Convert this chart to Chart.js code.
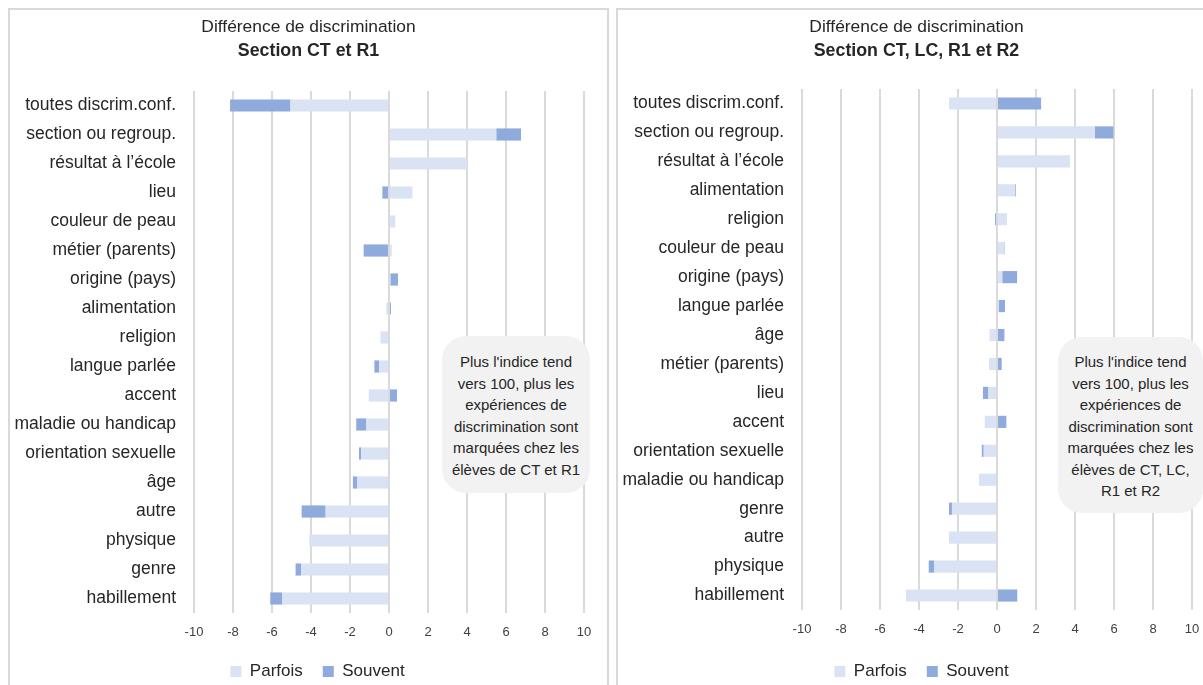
<!DOCTYPE html>
<html lang="fr">
<head>
<meta charset="utf-8">
<title>Différence de discrimination</title>
<script src="https://cdn.jsdelivr.net/npm/chart.js@4.4.1/dist/chart.umd.min.js"></script>
<style>
  html, body { margin: 0; padding: 0; background: #fff; }
  body { position: relative; width: 1203px; height: 685px; overflow: hidden;
         font-family: 'Liberation Sans', Arial, sans-serif; }
  .panel { position: absolute; top: 8px; width: 601px; height: 700px;
           border: 2px solid #D9D9D9; box-sizing: border-box; }
  #panelA { left: 8px; }
  #panelB { left: 616px; }
  canvas { position: absolute; top: 0; }
  #chartA { left: 9px; }
  #chartB { left: 617px; }
  .note { position: absolute; background: #F2F2F2; border-radius: 24px;
          box-sizing: border-box; text-align: center; color: #262626;
          font-size: 15px; line-height: 21.5px; white-space: nowrap; z-index: 2; }
  #noteA { left: 442px; top: 336px; width: 148px; height: 157px; padding-top: 15px; }
  #noteB { left: 1058px; top: 337px; width: 145px; height: 176px; padding-top: 14px; }
</style>
</head>
<body>
<div class="panel" id="panelA"></div>
<div class="panel" id="panelB"></div>
<canvas id="chartA" width="600" height="690"></canvas>
<canvas id="chartB" width="600" height="690"></canvas>
<div class="note" id="noteA">Plus l'indice tend<br>vers 100, plus les<br>expériences de<br>discrimination sont<br>marquées chez les<br>élèves de CT et R1</div>
<div class="note" id="noteB">Plus l'indice tend<br>vers 100, plus les<br>expériences de<br>discrimination sont<br>marquées chez les<br>élèves de CT, LC,<br>R1 et R2</div>
<script>
// Section CT et R1
const categoriesA = [
  'toutes discrim.conf.', 'section ou regroup.', 'résultat à l\u2019école', 'lieu',
  'couleur de peau', 'métier (parents)', 'origine (pays)', 'alimentation',
  'religion', 'langue parlée', 'accent', 'maladie ou handicap',
  'orientation sexuelle', 'âge', 'autre', 'physique', 'genre', 'habillement'
];
const parfoisA = [-5.05, 5.5, 4.0, 1.2, 0.32, 0.14, 0.07, -0.14, -0.44, -0.51, -1.04, -1.16, -1.42, -1.64, -3.25, -4.09, -4.51, -5.47];
const souventA = [-3.1, 1.27, 0, -0.34, 0, -1.3, 0.39, 0.1, 0, -0.24, 0.41, -0.52, -0.12, -0.21, -1.23, 0, -0.28, -0.62];

// Section CT, LC, R1 et R2
const categoriesB = [
  'toutes discrim.conf.', 'section ou regroup.', 'résultat à l\u2019école', 'alimentation',
  'religion', 'couleur de peau', 'origine (pays)', 'langue parlée',
  'âge', 'métier (parents)', 'lieu', 'accent',
  'orientation sexuelle', 'maladie ou handicap', 'genre', 'autre', 'physique', 'habillement'
];
const parfoisB = [-2.46, 5.01, 3.74, 0.92, 0.51, 0.34, 0.27, 0.1, -0.38, -0.41, -0.44, -0.63, -0.68, -0.92, -2.31, -2.46, -3.21, -4.67];
const souventB = [2.26, 0.96, 0, 0.04, -0.1, 0.04, 0.76, 0.31, 0.38, 0.24, -0.28, 0.48, -0.1, 0, -0.15, 0, -0.29, 1.04];

// Value axis
const axisMin = -10;
const axisMax = 10;
const axisStep = 2;

const seriesNames = ['Parfois', 'Souvent'];
const seriesColors = ['#DAE3F3', '#8FAADC'];

Chart.defaults.font.family = "'Liberation Sans', Arial, sans-serif";
Chart.defaults.color = '#262626';

const CANVAS_H = 690;
const LEGEND_FONT = 17;
const LEGEND_PAD = 20;
const LEGEND_H = LEGEND_FONT + LEGEND_PAD + 10;

// Centre the heading and the legend on the panel rather than on the full layout width
const centerBoxes = {
  id: 'centerBoxes',
  afterLayout(chart, args, opts) {
    chart.boxes.forEach((b) => {
      if (b === chart.legend) {
        b.left += opts.legendShift;
        b.right += opts.legendShift;
      } else if (b.options && typeof b.options.text === 'string') {
        b.left += opts.titleShift;
        b.right += opts.titleShift;
      }
    });
  }
};

function buildChart(id, subtitleText, labels, parfois, souvent, frame) {
  return new Chart(document.getElementById(id), {
    type: 'bar',
    data: {
      labels: labels,
      datasets: [
        { label: seriesNames[0], data: parfois, backgroundColor: seriesColors[0],
          barPercentage: 0.42, categoryPercentage: 1 },
        { label: seriesNames[1], data: souvent, backgroundColor: seriesColors[1],
          barPercentage: 0.42, categoryPercentage: 1 }
      ]
    },
    plugins: [centerBoxes],
    options: {
      indexAxis: 'y',
      responsive: false,
      animation: false,
      events: [],
      layout: { padding: { left: 0, right: 25, top: 17.06, bottom: 0 } },
      scales: {
        x: {
          stacked: true,
          min: axisMin,
          max: axisMax,
          ticks: { stepSize: axisStep, padding: 11.5, color: '#404040', font: { size: 13 } },
          grid: { color: '#DADADA', lineWidth: 2, drawTicks: false },
          border: { display: false },
          afterFit: (s) => { s.height = CANVAS_H - LEGEND_H - frame.bottom; }
        },
        y: {
          stacked: true,
          ticks: { padding: 18, color: '#262626', font: { size: 17.5 }, autoSkip: false },
          grid: { display: false, drawTicks: false },
          border: { display: false },
          afterFit: (s) => { s.width = 185; }
        }
      },
      plugins: {
        centerBoxes: { titleShift: 12, legendShift: frame.legendShift },
        title: {
          display: true,
          text: 'Différence de discrimination',
          color: '#262626',
          font: { size: 17.4, weight: 'normal', lineHeight: 1.2 },
          padding: { top: 0, bottom: 2.88 }
        },
        subtitle: {
          display: true,
          text: subtitleText,
          color: '#262626',
          font: { size: 17.8, weight: 'bold', lineHeight: 1.2 },
          padding: { top: 0, bottom: frame.top - 62.18 }
        },
        legend: {
          position: 'bottom',
          labels: { boxWidth: 11, boxHeight: 11, padding: LEGEND_PAD, color: '#262626',
                    font: { size: LEGEND_FONT } }
        },
        tooltip: { enabled: false }
      }
    }
  });
}

buildChart('chartA', 'Section CT et R1', categoriesA, parfoisA, souventA,
           { top: 91, bottom: 613, legendShift: 21 });
buildChart('chartB', 'Section CT, LC, R1 et R2', categoriesB, parfoisB, souventB,
           { top: 89, bottom: 610, legendShift: 17 });
</script>
</body>
</html>
